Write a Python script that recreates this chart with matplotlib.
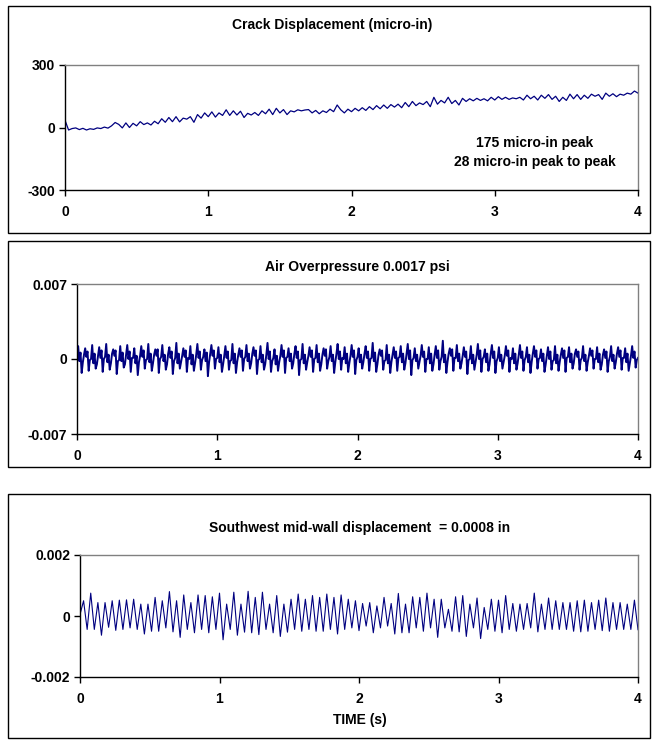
import numpy as np
import matplotlib.pyplot as plt
from matplotlib.patches import Rectangle

plt.rcParams['font.family'] = ['Liberation Sans', 'DejaVu Sans']
plt.rcParams['font.weight'] = 'bold'

# ---- data ----
# crack displacement, micro-in, sampled every 0.025 s
crack = [35, -12, -5, -2, -10, -4, -12, -6, -9, -2, -5, 2, -3, 8, 24, 15,
         -2, 22, 0, 20, 8, 28, 14, 22, 12, 30, 18, 42, 25, 48, 28, 52,
         27, 45, 40, 52, 25, 62, 45, 70, 52, 75, 50, 70, 58, 85, 58, 80,
         60, 78, 48, 68, 60, 72, 58, 80, 66, 88, 62, 92, 70, 86, 62, 80,
         75, 85, 80, 84, 86, 70, 82, 66, 80, 72, 88, 76, 108, 85, 70, 88,
         76, 92, 80, 95, 82, 100, 86, 105, 90, 108, 92, 110, 98, 112, 95, 120,
         100, 125, 105, 118, 110, 125, 100, 145, 112, 130, 118, 145, 115, 130, 108, 140,
         125, 138, 128, 140, 130, 138, 128, 145, 132, 148, 135, 145, 135, 142, 138, 145,
         132, 155, 138, 150, 132, 155, 140, 158, 135, 150, 125, 145, 130, 160, 138, 158,
         135, 155, 140, 160, 150, 158, 135, 165, 150, 162, 148, 160, 155, 165, 160, 175,
         165]

# air overpressure, 1e-4 psi, six samples per ~0.05 s cycle
air = [1, 12, -2, 6, -13, -3, 4, 10, 2, 7, -11, -1, 0, 13, -4, 5, -9, -5,
       3, 11, 1, 8, -12, 0, 2, 14, -3, 4, -10, -4, 5, 9, 3, 8, -14, -2,
       -1, 12, -2, 6, -8, -5, 4, 13, 0, 7, -12, 1, 1, 10, -4, 3, -15, -3,
       3, 12, 2, 8, -9, -1, 0, 14, -3, 5, -11, -4, 4, 9, 3, 9, -13, 0,
       2, 13, -2, 4, -10, -5, 5, 11, 1, 7, -14, -2, 1, 15, -4, 5, -9, -3,
       3, 10, 2, 8, -12, 1, 0, 12, -5, 4, -11, -4, 4, 14, 1, 7, -10, -1,
       2, 9, -2, 6, -16, -3, 5, 13, 3, 8, -9, 0, 1, 11, -3, 4, -12, -5,
       3, 12, 1, 7, -10, -2, -1, 14, -4, 5, -13, -3, 4, 10, 2, 8, -11, 0,
       2, 13, -2, 5, -9, -4, 5, 11, 3, 8, -14, -1, 0, 12, -3, 4, -10, -5,
       4, 15, 0, 7, -12, -2, 1, 9, -5, 3, -11, -3, 3, 13, 2, 8, -13, 1,
       2, 10, -2, 5, -9, -4, 5, 12, 1, 7, -15, -1, 0, 14, -4, 4, -10, -3,
       3, 11, 2, 8, -12, 0, 1, 13, -3, 5, -11, -5, 4, 10, 3, 9, -9, -2,
       2, 12, -2, 4, -13, -3, 5, 14, 0, 7, -10, 1, 0, 11, -4, 5, -12, -4,
       3, 13, 2, 8, -14, -1, 2, 10, -3, 4, -9, -3, 5, 12, 1, 7, -11, 0,
       1, 15, -2, 6, -12, -5, 4, 9, 3, 8, -10, -2, -1, 13, -4, 4, -13, -3,
       4, 11, 1, 7, -11, 1, 2, 12, -3, 5, -10, -4, 5, 14, 0, 8, -15, -1,
       1, 10, -2, 4, -9, -3, 3, 13, 2, 7, -12, 0, 0, 11, -4, 5, -11, -5,
       4, 12, 1, 8, -10, -2, 2, 17, -3, 4, -13, -3, 5, 10, 3, 9, -11, 1,
       1, 13, -2, 5, -9, -4, 3, 11, 2, 7, -14, -1, 0, 12, -4, 4, -10, -3,
       4, 14, 0, 8, -12, 0, 2, 9, -3, 5, -11, -5, 5, 13, 1, 7, -13, -2,
       1, 11, -2, 4, -9, -3, 3, 12, 3, 8, -12, 1, 0, 10, -4, 5, -10, -4,
       4, 13, 1, 7, -11, -1, 2, 11, -3, 4, -13, -3, 5, 12, 2, 8, -9, 0,
       1, 9, -2, 5, -12, -5, 3, 11, 0, 7, -10, -2, -1, 12, -4, 4, -11, -3,
       4, 10, 1, 8, -12, 1, 2, 11, -3, 5, -9, -4, 5, 9, 2, 7, -10, -1,
       1, 12, -2, 4, -11, -3, 3, 10, 3, 8, -9, 0, 0, 11, -3, 5, -10, -5,
       4, 9, 1, 7, -12, -2, 2, 12, -2, 4, -9, -3, 5, 11, 2, 8, -10, 1,
       1, 10, -3, 5, -11, -4, 3, 12, 1, 7, -8, -1,
       1]

# mid-wall displacement, 1e-5 in: start value, then peak / trough of each cycle
wall_start = 5
wall_peaks = [50, 75, 44, 44, 50, 52, 53, 55, 39, 39, 61, 50, 80, 50, 69, 44,
              69, 67, 63, 75, 39, 78, 39, 81, 61, 78, 39, 67, 39, 55, 72, 55,
              67, 61, 72, 61, 69, 55, 50, 41, 44, 33, 61, 41, 74, 39, 63, 61,
              75, 55, 55, 22, 63, 67, 39, 59, 28, 55, 52, 67, 41, 39, 41, 75,
              39, 59, 50, 44, 44, 50, 52, 44, 52, 59, 44, 44, 39, 52]
wall_troughs = [-44, -44, -63, -37, -47, -44, -39, -44, -59, -50, -50, -39, -52, -70, -44, -55,
                -44, -55, -44, -78, -44, -63, -53, -55, -61, -44, -55, -67, -53, -44, -50, -44,
                -50, -50, -44, -59, -44, -39, -48, -33, -55, -39, -33, -59, -55, -55, -39, -50,
                -39, -70, -39, -50, -52, -67, -39, -74, -44, -50, -55, -44, -50, -44, -39, -52,
                -44, -44, -44, -44, -50, -52, -50, -44, -48, -50, -44, -44, -44, -45]

titles = ['Crack Displacement (micro-in)', 'Air Overpressure 0.0017 psi',
          'Southwest mid-wall displacement  = 0.0008 in']
note = '175 micro-in peak\n28 micro-in peak to peak'

# ---- build series ----
crack_y = np.array(crack, dtype=float)
air_y = np.array(air) * 1e-4
wall = [wall_start]
for p, tr in zip(wall_peaks, wall_troughs):
    wall += [p, tr]
wall_y = np.array(wall) * 1e-5

W, H = 657, 740


def rect(l, t, r, b):
    return [l / W, 1 - b / H, (r - l) / W, (b - t) / H]


fig = plt.figure(figsize=(6.57, 7.40), dpi=100)

# outer frames of the three charts
for t, b in [(6, 233), (241, 467), (494, 738)]:
    fig.patches.append(Rectangle((8 / W, 1 - b / H), 642 / W, (b - t) / H,
                                 transform=fig.transFigure, fill=False,
                                 edgecolor='black', linewidth=1.0))


def setup(ax, lim, ticks, labels):
    ax.set_xlim(0, 4)
    ax.set_ylim(-lim, lim)
    ax.set_xticks([0, 1, 2, 3, 4])
    ax.set_xticklabels(['0', '1', '2', '3', '4'])
    ax.set_yticks(ticks)
    ax.set_yticklabels(labels)
    ax.tick_params(axis='x', direction='out', length=4, width=1, labelsize=10, pad=7)
    ax.tick_params(axis='y', direction='out', length=4, width=1, labelsize=10, pad=3)
    for s in ['top', 'right']:
        ax.spines[s].set_color('#808080')
        ax.spines[s].set_linewidth(1.0)
    for s in ['left', 'bottom']:
        ax.spines[s].set_color('black')
        ax.spines[s].set_linewidth(1.0)


ax1 = fig.add_axes(rect(65, 65, 638, 190))
ax1.plot(np.linspace(0, 4, len(crack_y)), crack_y, color='#000080', linewidth=0.9)
setup(ax1, 300, [-300, 0, 300], ['-300', '0', '300'])
ax1.text(0.82, 0.3, note, transform=ax1.transAxes, ha='center', va='center',
         fontsize=10, fontweight='bold', linespacing=1.45)

ax2 = fig.add_axes(rect(77, 284, 638, 434))
ax2.plot(np.linspace(0, 4, len(air_y)), air_y, color='#000080', linewidth=1.4)
setup(ax2, 0.007, [-0.007, 0, 0.007], ['-0.007', '0', '0.007'])

ax3 = fig.add_axes(rect(80, 555, 638, 677))
ax3.plot(np.linspace(0, 4, len(wall_y)), wall_y, color='#000080', linewidth=0.8)
setup(ax3, 0.002, [-0.002, 0, 0.002], ['-0.002', '0', '0.002'])

fig.text(332 / W, 1 - 25 / H, titles[0], ha='center', va='center', fontsize=10, fontweight='bold')
fig.text(357 / W, 1 - 267 / H, titles[1], ha='center', va='center', fontsize=10, fontweight='bold')
fig.text(360 / W, 1 - 528 / H, titles[2], ha='center', va='center', fontsize=10, fontweight='bold')
fig.text(360 / W, 1 - 720 / H, 'TIME (s)', ha='center', va='center', fontsize=10, fontweight='bold')

plt.savefig('out.png', dpi=100)
